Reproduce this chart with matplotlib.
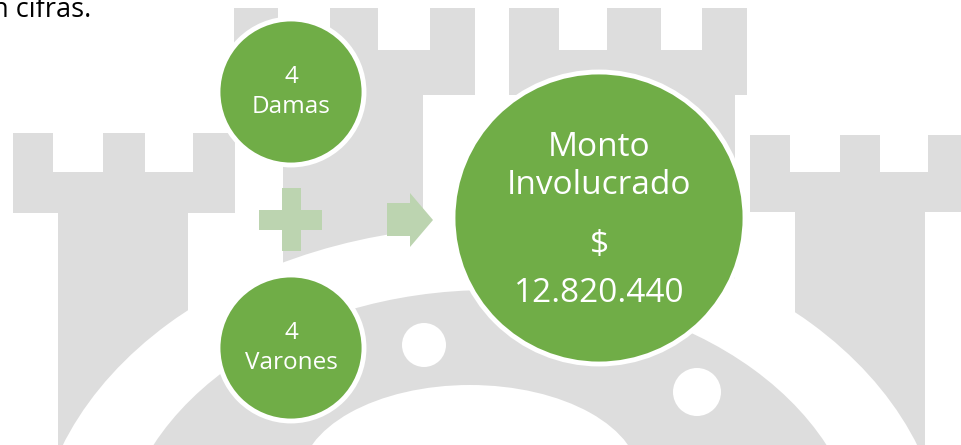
import matplotlib
matplotlib.use("Agg")
import matplotlib.pyplot as plt
from matplotlib.patches import Rectangle, Circle, Ellipse, Polygon

# diagram content
node_counts = [4, 4]
node_labels = ["Damas", "Varones"]
total_title = ["Monto", "Involucrado"]
total_amount = ["$", "12.820.440"]
caption = "n cifras."

GREEN = "#70ad47"
LIGHT_GREEN = "#bcd4b0"
WATERMARK = "#dddddd"
FONT = ["Open Sans", "DejaVu Sans"]

W, H = 961, 445

fig = plt.figure(figsize=(W / 100, H / 100), dpi=100)
ax = fig.add_axes([0, 0, 1, 1])
ax.set_xlim(0, W)
ax.set_ylim(H, 0)
ax.set_aspect("equal")
ax.axis("off")


def rect(x0, y0, x1, y1, color=WATERMARK, z=0):
    ax.add_patch(Rectangle((x0, y0), x1 - x0, y1 - y0, facecolor=color,
                           edgecolor="none", zorder=z))


def tower(merlons, top, notch_bottom, band_bottom, band_x, body_x):
    for m0, m1 in merlons:
        rect(m0, top, m1, notch_bottom)
    rect(band_x[0], notch_bottom, band_x[1], band_bottom)
    rect(body_x[0], band_bottom, body_x[1], H + 5)


# watermark castle in the background
tower([(13, 53), (103, 145), (193, 235)], 133, 172, 213, (13, 235), (58, 188))
tower([(234, 278), (330, 378), (430, 475)], 8, 50, 95, (234, 475), (283, 423))
tower([(509, 559), (607, 661), (702, 747)], 8, 50, 95, (509, 747), (523, 735))
tower([(750, 790), (840, 880), (928, 965)], 135, 172, 212, (750, 965), (795, 925))

ax.add_patch(Ellipse((490, 560), 910, 668, facecolor="white", edgecolor="none", zorder=1))
ax.add_patch(Ellipse((490, 560), 744, 540, facecolor=WATERMARK, edgecolor="none", zorder=2))
ax.add_patch(Ellipse((470, 480), 340, 190, facecolor="white", edgecolor="none", zorder=3))
for cx, cy, r in [(424, 345, 22), (697, 392, 24)]:
    ax.add_patch(Circle((cx, cy), r, facecolor="white", edgecolor="none", zorder=3))

# caption cut off at the top-left, as in the source page
ax.text(-8, 17, caption, fontsize=19.5, family=FONT, color="black",
        ha="left", va="baseline", zorder=10)

# small input circles
small_centers = [(291, 92), (291, 348)]
for (cx, cy), n, lab in zip(small_centers, node_counts, node_labels):
    ax.add_patch(Circle((cx, cy), 73, facecolor=GREEN, edgecolor="white",
                        linewidth=3.5, zorder=5))
    ax.text(cx, cy - 15, str(n), fontsize=17.5, family=FONT, color="white",
            ha="center", va="center", zorder=6)
    ax.text(cx, cy + 15, lab, fontsize=17.5, family=FONT, color="white",
            ha="center", va="center", zorder=6)

# plus sign
ax.add_patch(Polygon([(282, 188), (301, 188), (301, 210), (322, 210), (322, 230),
                      (301, 230), (301, 251), (282, 251), (282, 230), (259, 230),
                      (259, 210), (282, 210)],
                     closed=True, facecolor=LIGHT_GREEN, edgecolor="none", zorder=5))

# arrow
ax.add_patch(Polygon([(387, 203), (410, 203), (410, 193), (433, 220), (410, 247),
                      (410, 236), (387, 236)],
                     closed=True, facecolor=LIGHT_GREEN, edgecolor="none", zorder=5))

# result circle
bx, by = 599, 218
ax.add_patch(Circle((bx, by), 146, facecolor=GREEN, edgecolor="white",
                    linewidth=3.5, zorder=5))
for dy, s in zip([-71, -33], total_title):
    ax.text(bx, by + dy, s, fontsize=24, family=FONT, color="white",
            ha="center", va="center", zorder=6)
for dy, s in zip([27, 75], total_amount):
    ax.text(bx, by + dy, s, fontsize=24, family=FONT, color="white",
            ha="center", va="center", zorder=6)

fig.savefig("out.png", dpi=100)
